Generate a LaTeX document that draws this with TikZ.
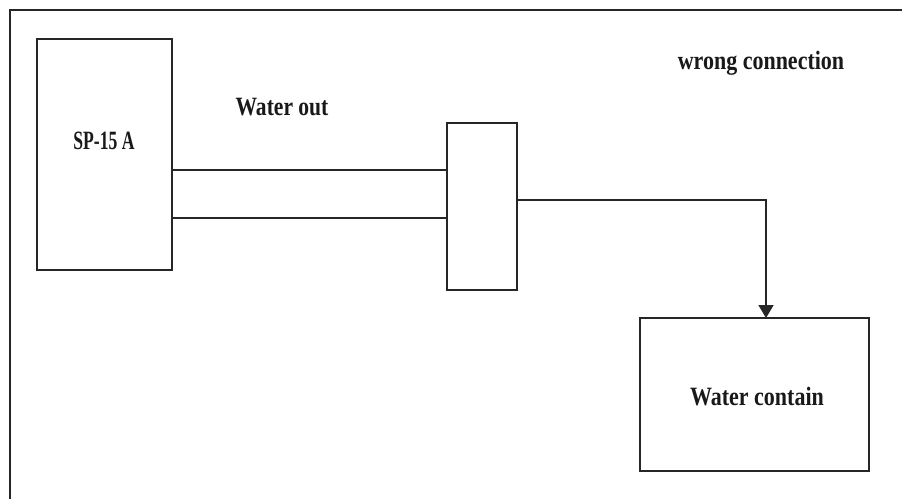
\documentclass[tikz,border=0pt]{standalone}
\usepackage{fontspec}
\setmainfont{Liberation Serif}
\usetikzlibrary{arrows.meta}
\newcommand{\lbl}[2]{\scalebox{#1}[1.2]{#2}}
\tikzset{
  line/.style={line width=1.7pt, draw=black!85},
  box/.style={line, rectangle, inner sep=0pt, outer sep=0pt, fill=white},
  lab/.style={font=\fontsize{22}{26}\selectfont\bfseries, text=black!90, inner sep=0pt},
  arr/.style={line, -{Triangle[width=15pt,length=13pt]}}
}
\begin{document}
\begin{tikzpicture}[x=1pt,y=-1pt]
\useasboundingbox (0,0) rectangle (902,499);
\fill[white] (0,0) rectangle (902,499);
% outer frame (left and top edges visible)
\coordinate (ftl) at (10,10);
\coordinate (fbl) at (10,499);
\coordinate (ftr) at (902,10);
\draw[line] (fbl) -- (ftl) -- (ftr);
% boxes
\node[box, minimum width=135pt, minimum height=231pt] (sp) at (104.5,154.5) {};
\node[lab] (sptext) at (104,141) {\lbl{0.8}{SP-15 A}};
\node[box, minimum width=70pt, minimum height=167pt] (mid) at (482,206.5) {};
\node[box, minimum width=229pt, minimum height=153pt] (wc) at (754.5,394.5) {};
\node[lab] (wctext) at (757,397) {\lbl{1.0}{Water contain}};
% labels
\node[lab] (wout) at (282,107) {\lbl{0.98}{Water out}};
\node[lab] (wrong) at (761,63) {\lbl{1.0}{wrong connection}};
% pipes
\coordinate (y1) at (0,170);
\coordinate (y2) at (0,218);
\draw[line] (sp.east |- y1) -- (mid.west |- y1);
\draw[line] (sp.east |- y2) -- (mid.west |- y2);
% outlet
\coordinate (bend) at (766,200);
\draw[arr] (mid.east |- bend) -- (bend) -- (bend |- wc.north);
\end{tikzpicture}
\end{document}
